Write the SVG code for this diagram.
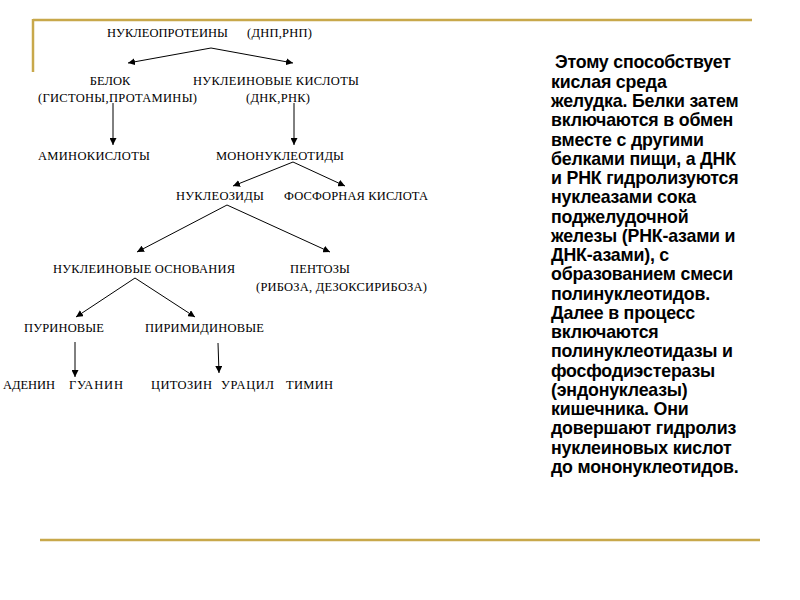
<svg xmlns="http://www.w3.org/2000/svg" width="800" height="600" viewBox="0 0 800 600">
<style>
.t{font-family:"Liberation Serif",serif;font-size:12.5px;fill:#000}
.b{font-family:"Liberation Sans",Arial,sans-serif;font-size:17.8px;font-weight:bold;letter-spacing:-0.2px;fill:#000}
.c line{stroke:#000;stroke-width:1;marker-end:url(#a)}
.g{stroke:#C8A84B;stroke-width:2.5}
</style>
<defs><marker id="a" viewBox="0 0 10 10" refX="10" refY="5" markerWidth="7" markerHeight="7" orient="auto" markerUnits="userSpaceOnUse"><path d="M0,0L10,5L0,10z" fill="#000"/></marker></defs>
<rect width="800" height="600" fill="#fff"/>
<line class="g" x1="33" y1="20" x2="752" y2="20"/>
<line class="g" x1="33" y1="19" x2="33" y2="72"/>
<line class="g" x1="40" y1="540" x2="760" y2="540"/>
<g id="n1"><text class="t" x="107" y="37" textLength="121">НУКЛЕОПРОТЕИНЫ</text><text class="t" x="247" y="37" textLength="65">(ДНП,РНП)</text></g>
<g id="n2"><text class="t" x="110" y="85" text-anchor="middle">БЕЛОК</text><text class="t" x="38" y="102" textLength="159">(ГИСТОНЫ,ПРОТАМИНЫ)</text></g>
<g id="n3"><text class="t" x="193" y="85" textLength="166">НУКЛЕИНОВЫЕ КИСЛОТЫ</text><text class="t" x="246" y="102" textLength="64">(ДНК,РНК)</text></g>
<g id="n4"><text class="t" x="38" y="160" textLength="112">АМИНОКИСЛОТЫ</text></g>
<g id="n5"><text class="t" x="216" y="160" textLength="128">МОНОНУКЛЕОТИДЫ</text></g>
<g id="n6"><text class="t" x="176" y="200" textLength="88">НУКЛЕОЗИДЫ</text></g>
<g id="n7"><text class="t" x="284" y="200" textLength="144">ФОСФОРНАЯ КИСЛОТА</text></g>
<g id="n8"><text class="t" x="53" y="273" textLength="182">НУКЛЕИНОВЫЕ ОСНОВАНИЯ</text></g>
<g id="n9"><text class="t" x="290" y="273" textLength="60">ПЕНТОЗЫ</text><text class="t" x="256" y="291" textLength="171">(РИБОЗА, ДЕЗОКСИРИБОЗА)</text></g>
<g id="n10"><text class="t" x="24" y="332" textLength="80">ПУРИНОВЫЕ</text></g>
<g id="n11"><text class="t" x="145" y="332" textLength="119">ПИРИМИДИНОВЫЕ</text></g>
<g id="n12"><text class="t" x="3" y="389" textLength="52">АДЕНИН</text><text class="t" x="69" y="389" textLength="54">ГУАНИН</text></g>
<g id="n13"><text class="t" x="151" y="389" textLength="61">ЦИТОЗИН</text><text class="t" x="221" y="389" textLength="53">УРАЦИЛ</text><text class="t" x="286" y="389" textLength="47">ТИМИН</text></g>
<g id="connectors" class="c">
<line x1="211" y1="48" x2="128" y2="63"/><line x1="211" y1="48" x2="293" y2="63"/>
<line x1="113" y1="103" x2="113" y2="145"/><line x1="294" y1="103" x2="294" y2="145"/>
<line x1="293" y1="162" x2="233" y2="186"/><line x1="293" y1="162" x2="345" y2="186"/>
<line x1="227" y1="205" x2="137" y2="252"/><line x1="227" y1="205" x2="330" y2="252"/>
<line x1="135" y1="278" x2="76" y2="317"/><line x1="135" y1="278" x2="195" y2="317"/>
<line x1="75" y1="342" x2="75" y2="377"/><line x1="218" y1="343" x2="219" y2="373"/>
</g>
<g id="note" class="b">
<text x="555" y="68">Этому способствует</text>
<text x="551" y="88">кислая среда</text>
<text x="551" y="107">желудка. Белки затем</text>
<text x="551" y="126">включаются в обмен</text>
<text x="551" y="146">вместе с другими</text>
<text x="551" y="165">белками пищи, а ДНК</text>
<text x="551" y="184">и РНК гидролизуются</text>
<text x="551" y="203">нуклеазами сока</text>
<text x="551" y="223">поджелудочной</text>
<text x="551" y="242">железы (РНК-азами и</text>
<text x="551" y="261">ДНК-азами), с</text>
<text x="551" y="280">образованием смеси</text>
<text x="551" y="300">полинуклеотидов.</text>
<text x="551" y="319">Далее  в процесс</text>
<text x="551" y="338">включаются</text>
<text x="551" y="357">полинуклеотидазы  и</text>
<text x="551" y="377">фосфодиэстеразы</text>
<text x="551" y="396">(эндонуклеазы)</text>
<text x="551" y="415">кишечника. Они</text>
<text x="551" y="434">довершают гидролиз</text>
<text x="551" y="454">нуклеиновых кислот</text>
<text x="551" y="473">до мононуклеотидов.</text>
</g>
</svg>
